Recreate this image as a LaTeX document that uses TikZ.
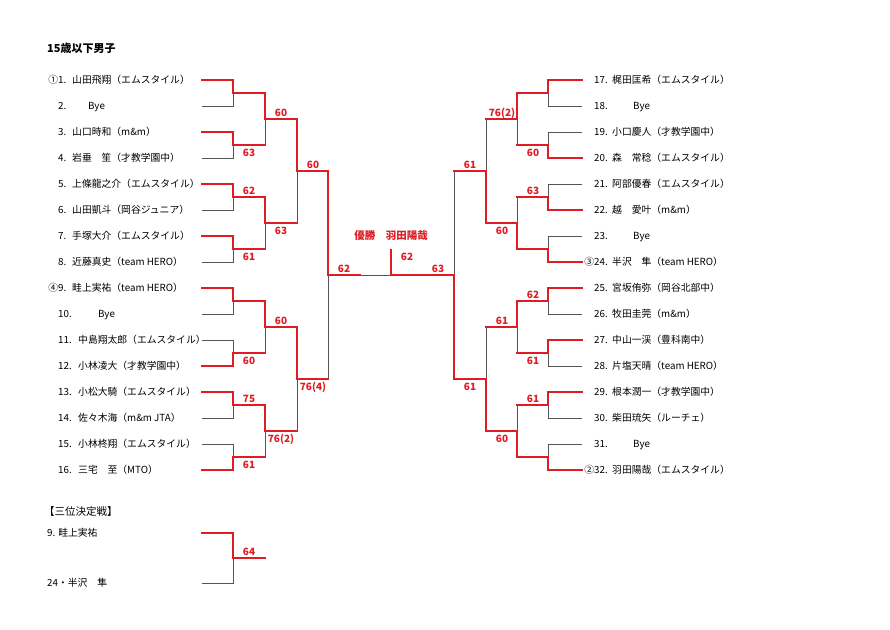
\documentclass[tikz,border=0pt]{standalone}
\usepackage{fontspec}
\setmainfont{Noto Sans CJK JP}
\usetikzlibrary{backgrounds}
\definecolor{winred}{RGB}{222,28,36}
\definecolor{losegray}{RGB}{85,85,85}
\tikzset{
  win/.style={draw=winred, line width=1.6pt, line cap=rect},
  lose/.style={draw=losegray, line width=0.8pt},
  player/.style={anchor=west, inner sep=0pt, font=\fontsize{9.8}{11}\selectfont,
                 text height=8.5pt, text depth=1pt},
  score/.style={anchor=base, inner sep=0pt, text=winred,
                font=\fontsize{10}{12}\selectfont\bfseries},
}
\begin{document}
\begin{tikzpicture}[x=1pt, y=-1pt]
  \useasboundingbox (0,0) rectangle (890,629);
  \begin{pgfonlayer}{background}
    \fill[white] (0,0) rectangle (890,629);
  \end{pgfonlayer}

  \node[anchor=west, inner sep=0pt, font=\fontsize{11}{13}\selectfont\bfseries]
    (title) at (47,48) {15歳以下男子};

  % left half
  \foreach \k/\nx/\nm [count=\i] in {\llap{①}1./72/山田飛翔（エムスタイル）,
      2./88/Bye, 3./72/山口時和（m\&m）, 4./72/岩垂　笙（才教学園中）,
      5./72/上條龍之介（エムスタイル）, 6./72/山田凱斗（岡谷ジュニア）,
      7./72/手塚大介（エムスタイル）, 8./72/近藤真史（team HERO）,
      \llap{④}9./72/畦上実祐（team HERO）, 10./98/Bye,
      11./78/中島翔太郎（エムスタイル）, 12./78/小林凌大（才教学園中）,
      13./78/小松大騎（エムスタイル）, 14./78/佐々木海（m\&m JTA）,
      15./78/小林柊翔（エムスタイル）, 16./78/三宅　至（MTO）}
  {
    \node[player] (ln\i) at (58,{80+26*(\i-1)}) {\k};
    \node[player] (lp\i) at (\nx,{80+26*(\i-1)}) {\nm};
  }

  % right half
  \foreach \k/\nx/\nm [count=\i] in {17./612/梶田匡希（エムスタイル）,
      18./633/Bye, 19./612/小口慶人（才教学園中）, 20./612/森　常稔（エムスタイル）,
      21./612/阿部優春（エムスタイル）, 22./612/越　愛叶（m\&m）, 23./633/Bye,
      \llap{③}24./612/半沢　隼（team HERO）, 25./612/宮坂侑弥（岡谷北部中）,
      26./612/牧田圭莞（m\&m）, 27./612/中山一渓（豊科南中）,
      28./612/片塩天晴（team HERO）, 29./612/根本潤一（才教学園中）,
      30./612/柴田琉矢（ルーチェ）, 31./633/Bye,
      \llap{②}32./612/羽田陽哉（エムスタイル）}
  {
    \node[player] (rn\i) at (594,{80+26*(\i-1)}) {\k};
    \node[player] (rp\i) at (\nx,{80+26*(\i-1)}) {\nm};
  }

  % matches: start x / vertical x / out x / top y / bottom y / winner (0 top, 1 bottom)
  \foreach \xs/\xv/\xo/\yt/\yb/\w in {
      202/233/265/80/106/0, 202/233/265/132/158/0, 202/233/265/184/210/0,
      202/233/265/236/262/0, 202/233/265/288/314/0, 202/233/265/340/366/1,
      202/233/265/392/418/0, 202/233/265/444/470/1,
      265/265/297/93/145/0, 265/265/297/197/249/0, 265/265/297/301/353/0,
      265/265/297/405/457/0,
      297/297/328/119/223/0, 297/297/328/327/431/0,
      328/328/360/171/379/0,
      582/548/517/80/106/0, 582/548/517/132/158/1, 582/548/517/184/210/1,
      582/548/517/236/262/1, 582/548/517/288/314/0, 582/548/517/340/366/0,
      582/548/517/392/418/0, 582/548/517/444/470/1,
      517/517/486/93/145/0, 517/517/486/197/249/1, 517/517/486/301/353/0,
      517/517/486/405/457/1,
      486/486/454/119/223/1, 486/486/454/327/431/1,
      454/454/391/171/379/1,
      202/233/265/533/583/0}
  {
    \pgfmathsetmacro\ym{(\yt+\yb)/2}
    \ifnum\w=0
      \begin{pgfonlayer}{background}
        \draw[lose] (\xs,\yb) -- (\xv,\yb) -- (\xv,\ym);
      \end{pgfonlayer}
      \draw[win] (\xs,\yt) -- (\xv,\yt) -- (\xv,\ym) -- (\xo,\ym);
    \else
      \begin{pgfonlayer}{background}
        \draw[lose] (\xs,\yt) -- (\xv,\yt) -- (\xv,\ym);
      \end{pgfonlayer}
      \draw[win] (\xs,\yb) -- (\xv,\yb) -- (\xv,\ym) -- (\xo,\ym);
    \fi
  }

  % final
  \begin{pgfonlayer}{background}
    \draw[lose] (360,275) -- (391,275);
  \end{pgfonlayer}
  \draw[win] (391,250) -- (391,275);
  \node[score, anchor=center, font=\fontsize{10.5}{12}\selectfont\bfseries]
    (champ) at (391,236) {優勝　羽田陽哉};
  \node[score, anchor=center] (fin) at (407,257) {62};

  % scores
  \foreach \x/\y/\o/\s [count=\j] in {
      249/145/11/63, 249/197/-3/62, 249/249/11/61, 249/353/11/60,
      249/405/-3/75, 249/457/11/61,
      281/119/-3/60, 281/223/11/63, 281/327/-3/60, 281/431/11/76(2),
      313/171/-3/60, 313/379/11/76(4), 344/275/-3/62,
      533/145/11/60, 533/197/-3/63, 533/301/-3/62, 533/353/11/61,
      533/405/-3/61,
      502/119/-3/76(2), 502/223/11/60, 502/327/-3/61, 502/431/11/60,
      470/171/-3/61, 470/379/11/61, 438/275/-3/63,
      249/558/-3/64}
    \node[score] (s\j) at (\x,{\y+\o}) {\s};

  % third place
  \node[anchor=west, inner sep=0pt, font=\fontsize{10.5}{12}\selectfont]
    (third) at (44,512) {【三位決定戦】};
  \node[player] (tp1) at (47,533) {9. 畦上実祐};
  \node[player] (tp2) at (47,583) {24・半沢　隼};
\end{tikzpicture}
\end{document}
